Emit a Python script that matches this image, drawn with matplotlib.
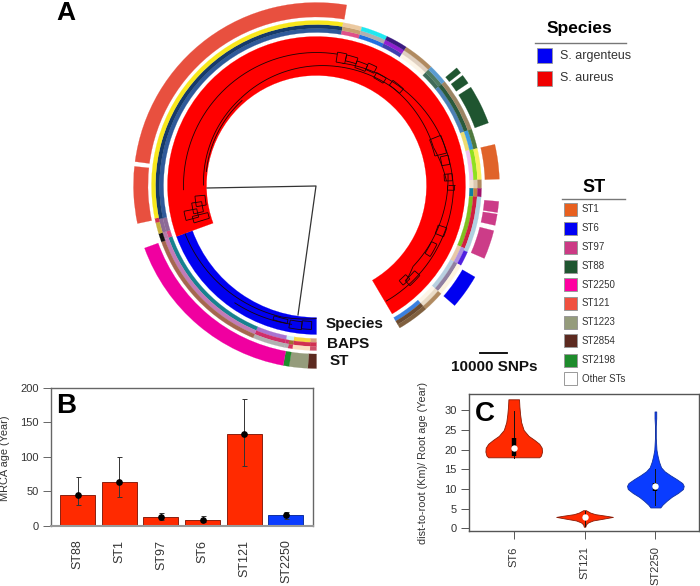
import numpy as np
import matplotlib
matplotlib.use("Agg")
import matplotlib.pyplot as plt
from matplotlib.patches import Wedge, Rectangle

plt.rcParams['font.family'] = ['Liberation Sans', 'DejaVu Sans']

W, H = 700, 586
CX, CY = 316.5, 185.5

# ---------- Panel A data (angles clockwise from 12 o'clock) ----------
species_edges = [180, 250, 510]
species_colors = ['#0000F0', '#FF0000']

baps_edges = [180, 182.3, 188.4, 190, 191.2, 202.6, 250.6, 253, 258, 369.3, 376, 385.3, 393, 404, 411, 430, 437, 448, 451, 454, 473, 479, 491, 498.5, 509.7]
inner_colors = ['#D8A37F', '#F5D742', '#CFF3F5', '#CFF3F5', '#A974D0', '#17828F', '#E0457F', '#8C6A96', '#2F5A9A',
                '#E0508A', '#2070E0', '#4040B0', '#FDF5E8', '#3F6B5A', '#4C80B4', '#EBDC70', '#EFC0F0', '#F2E5D0',
                '#1080A0', '#80C020', '#E8C8A8', '#B8D0E0', '#FDF5E8', '#3A80E0']
mid_colors = ['#D03050', '#D03050', '#A07030', '#D02F6A', '#D02F6A', '#C27BB8', '#B57BA8', '#8C6A96', '#153A6B',
              '#C8A070', '#B0B0B0', '#9020D0', '#E0D0C0', '#4F7A62', '#2A5A3C', '#3C9BE0', '#90E020', '#DCC8B0',
              '#C08040', '#D02040', '#B090E0', '#9080A0', '#EADCC8', '#6A4A30']
outer_edges = [180, 182.3, 188.4, 190, 191.2, 202.6, 250, 253, 257, 258.5, 369.3, 376, 385.3, 393, 404, 411, 430, 437, 448, 451, 454, 473.8, 479, 491, 498.5, 509.7]
outer_colors = ['#D0506A', '#FADFC0', '#D8305C', '#B0B0B0', '#B0B0B0', '#A5674F', '#111111', '#C8B040', '#D03050', '#F8E71C',
                '#EBC9A0', '#20E8F0', '#3A1A80', '#B08A60', '#5A9BD0', '#9C8463', '#4F7A3F', '#F8F060', '#B08A60',
                '#A0106A', '#B0D0E0', '#5020E0', '#FDF5E0', '#B08A60', '#80603F']

st_edges = [(180, 182.7), (182.7, 188.6), (188.6, 190.5), (190.5, 250), (258, 276), (277.5, 369.5),
            (410, 412), (413, 416), (417.5, 430), (437, 448), (455, 458.5), (459, 462.6), (464.3, 473.5), (480, 491)]
st_colors = ['#5C2A20', '#959C7C', '#1E8C2C', '#F000A0', '#E8503F', '#E8503F',
             '#1F5530', '#1F5530', '#1F5530', '#E0632A', '#CC3C88', '#CC3C88', '#CC3C88', '#0000F0']

# tree arcs: (angle start, radius start, angle end, radius end)
tree_arcs = [(268, 133, 369, 133), (270, 113, 319, 115.5), (319, 115.5, 372, 121), (277, 111, 319, 113),
             (372, 125, 392, 128), (372, 121, 398, 124), (392, 128, 425, 133), (398, 124, 432, 123),
             (432, 123, 448, 130), (425, 133, 452, 137), (452, 137, 509, 135), (445, 132, 490, 126),
             (490, 126, 497, 131), (250, 140, 195, 136), (195, 136, 180, 133), (215, 143, 190, 141)]
tree_boxes = [(369, 373, 125, 135), (373, 378, 128, 134), (378, 383, 124, 131), (383, 387, 126, 133),
              (388, 393, 122, 128), (396, 402, 124, 130), (428, 436, 122, 134), (437, 441, 127, 135),
              (445, 448, 128, 136), (450, 452, 131, 138), (468, 472, 128, 137), (476, 482, 128, 134),
              (491, 497, 130, 137), (495, 499, 126, 132), (255, 259, 122, 135), (257, 262, 116, 126),
              (260, 265, 112, 122), (253, 256, 112, 128), (182, 186, 136, 144), (186, 191, 137, 145), (192, 198, 137, 141)]
root_x = [207, 316, 298]
root_y = [188, 186, 315]

# ---------- Legends ----------
species_labels = ['S. argenteus', 'S. aureus']
species_legend_colors = ['#0000F5', '#F00000']
st_labels = ['ST1', 'ST6', 'ST97', 'ST88', 'ST2250', 'ST121', 'ST1223', 'ST2854', 'ST2198', 'Other STs']
st_legend_colors = ['#E8601F', '#0000F5', '#CC3A85', '#1F5530', '#FF00A0', '#F0503F', '#959C7C', '#5C2A20', '#1E8C2C', '#FFFFFF']

# ---------- Panel B ----------
b_labels = ['ST88', 'ST1', 'ST97', 'ST6', 'ST121', 'ST2250']
b_values = [45, 64, 12, 9, 133, 15]
b_low = [30, 42, 8, 6, 86, 10]
b_high = [71, 100, 19, 14, 184, 20]
b_colors = ['#FF2A00', '#FF2A00', '#FF2A00', '#FF2A00', '#FF2A00', '#0A3CFF']

# ---------- Panel C ----------
c_labels = ['ST6', 'ST121', 'ST2250']
c_colors = ['#FF2A00', '#FF2A00', '#0A3CFF']
st6_y = [18.05, 18.5, 19.5, 20.5, 21.5, 22.5, 23.5, 25, 27, 29, 31, 32.8]
st6_w = [0.36, 0.385, 0.40, 0.395, 0.36, 0.29, 0.21, 0.14, 0.105, 0.09, 0.08, 0.075]
st121_y = [0.4, 1, 1.5, 2, 2.5, 2.9, 3.2, 3.6, 4, 4.6]
st121_w = [0.01, 0.02, 0.05, 0.12, 0.28, 0.40, 0.30, 0.15, 0.08, 0.02]
st2250_y = [5.3, 6, 7, 8, 9, 10, 10.8, 11.5, 12.5, 13.5, 14.5, 15.5, 17, 18.5, 20, 23, 26, 28, 29.7]
st2250_w = [0.07, 0.10, 0.16, 0.23, 0.32, 0.39, 0.40, 0.38, 0.30, 0.21, 0.13, 0.08, 0.05, 0.03, 0.015, 0.006, 0.006, 0.012, 0.012]
c_shapes = [(st6_y, st6_w), (st121_y, st121_w), (st2250_y, st2250_w)]
c_medians = [20.3, 2.8, 10.8]
c_box_low = [18.4, 2.3, 9.5]
c_box_high = [23, 3.2, 11.5]
c_whisk_low = [18, 0.6, 6]
c_whisk_high = [29.7, 4.3, 15]

fig = plt.figure(figsize=(W / 100, H / 100), dpi=100, facecolor='white')


def px_axes(left, top, right, bottom, **kw):
    return fig.add_axes([left / W, 1 - bottom / H, (right - left) / W, (bottom - top) / H], **kw)


# ---------- Panel A ----------
ax = px_axes(0, 0, W, H)
ax.set_xlim(0, W)
ax.set_ylim(H, 0)
ax.axis('off')


def band(t1, t2, r1, r2, color, z=2):
    ax.add_patch(Wedge((CX, CY), r2, t1 - 90, t2 - 90, width=r2 - r1, facecolor=color, edgecolor=color, lw=0.15, zorder=z))


def polar_xy(t, r):
    a = np.radians(t)
    return CX + r * np.sin(a), CY - r * np.cos(a)


def branch(t1, r1, t2, r2):
    ts = np.linspace(t1, t2, 40)
    rs = np.linspace(r1, r2, 40)
    x, y = polar_xy(ts, rs)
    ax.plot(x, y, color='#1a0505', lw=0.6, zorder=4, solid_capstyle='butt')


band(species_edges[0], species_edges[1], 132, 149, species_colors[0])
band(species_edges[1], species_edges[2] - 0.5, 110, 149, species_colors[1])

for edges, colors, r1, r2 in [(baps_edges, inner_colors, 153, 157), (baps_edges, mid_colors, 157, 161), (outer_edges, outer_colors, 161, 165)]:
    for t1, t2, c in zip(edges[:-1], edges[1:], colors):
        band(t1, t2, r1, r2, c)

for (t1, t2), c in zip(st_edges, st_colors):
    band(t1, t2, 168.5, 183, c)

for a in tree_arcs:
    branch(*a)
for t1, t2, r1, r2 in tree_boxes:
    branch(t1, r1, t2, r1)
    branch(t1, r2, t2, r2)
    branch(t1, r1, t1, r2)
    branch(t2, r1, t2, r2)
ax.plot(root_x, root_y, color='#333333', lw=0.9, zorder=4)

ax.text(66, 12.5, 'A', fontsize=19, fontweight='bold', ha='center', va='center', color='black')
ax.text(326, 324, 'Species', fontsize=11, fontweight='bold', va='center', color='#111111')
ax.text(327, 344, 'BAPS', fontsize=11, fontweight='bold', va='center', color='#111111')
ax.text(330, 361, 'ST', fontsize=11, fontweight='bold', va='center', color='#111111')

ax.text(579, 28, 'Species', fontsize=12.5, fontweight='bold', ha='center', va='center', color='black')
ax.plot([535, 626], [43, 43], color='#777777', lw=1.0)
for yc, lab, col in zip([55.5, 78], species_labels, species_legend_colors):
    ax.add_patch(Rectangle((537, yc - 7.5), 15, 15, facecolor=col, edgecolor='#999999', lw=0.6))
    ax.text(560, yc, lab, fontsize=9, va='center', color='#333333')

ax.text(594, 188, 'ST', fontsize=13, fontweight='bold', ha='center', va='center', color='black')
ax.plot([562, 625], [198.5, 198.5], color='#777777', lw=1.0)
st_legend_y = [209, 228, 247, 266, 284.5, 303.5, 322, 340.5, 360, 378.5]
for yc, lab, col in zip(st_legend_y, st_labels, st_legend_colors):
    ax.add_patch(Rectangle((563.5, yc - 6.5), 13, 13, facecolor=col, edgecolor='#999999', lw=0.7))
    ax.text(582, yc, lab, fontsize=7, va='center', color='#333333')

ax.plot([480, 507], [353, 353], color='black', lw=1.3)
ax.text(494, 367, '10000 SNPs', fontsize=11, fontweight='bold', ha='center', va='center', color='#111111')

# ---------- Panel B ----------
axb = px_axes(50.7, 388, 313, 525.7)
xb = np.arange(len(b_labels))
axb.bar(xb, b_values, width=0.84, color=b_colors, edgecolor=['#8A2010'] * 5 + ['#1030A0'], linewidth=0.7)
axb.errorbar(xb, b_values, yerr=[np.subtract(b_values, b_low), np.subtract(b_high, b_values)], fmt='o', color='black',
             ms=3.8, ecolor='#333333', elinewidth=0.7, capsize=1.8, capthick=0.7)
axb.set_xlim(-0.648, 5.65)
axb.set_ylim(0, 200)
axb.set_yticks([0, 50, 100, 150, 200])
axb.set_xticks(xb)
axb.set_xticklabels(b_labels, rotation=90, fontsize=9, color='#333333')
axb.tick_params(axis='x', length=0, pad=10)
axb.tick_params(axis='y', labelsize=8, labelcolor='#333333', length=5.5, width=0.7, color='#666666', pad=3)
for s in axb.spines.values():
    s.set_color('#666666')
    s.set_linewidth(1.0)
axb.spines['bottom'].set_color('#999999')
axb.spines['bottom'].set_linewidth(1.5)
ax.text(5, 458, 'MRCA age (Year)', rotation=90, fontsize=7.9, ha='center', va='center', color='#333333')
axb.text(0.02, 0.87, 'B', transform=axb.transAxes, fontsize=20, fontweight='bold', va='center', color='black')

# ---------- Panel C ----------
axc = px_axes(469.3, 394.3, 699.3, 531.3)
for i, ((vy, vw), col) in enumerate(zip(c_shapes, c_colors)):
    vy = np.asarray(vy)
    vw = np.asarray(vw)
    edge = '#8A1A05' if col == '#FF2A00' else '#1030A0'
    axc.fill_betweenx(vy, i - vw, i + vw, facecolor=col, edgecolor=edge, lw=0.6, zorder=2)
    axc.plot([i, i], [c_whisk_low[i], c_whisk_high[i]], color='#111111', lw=0.7, zorder=3)
    axc.plot([i, i], [c_box_low[i], c_box_high[i]], color='black', lw=3.2, zorder=4, solid_capstyle='butt')
    axc.plot([i], [c_medians[i]], 'o', color='white', ms=4.6, mew=0, zorder=5)
axc.set_xlim(-0.627, 2.62)
axc.set_ylim(-0.76, 34.07)
axc.set_yticks([0, 5, 10, 15, 20, 25, 30])
axc.set_xticks([0, 1, 2])
axc.set_xticklabels(c_labels, rotation=90, fontsize=8, color='#333333')
axc.tick_params(axis='x', length=6, width=0.7, color='#555555', pad=5)
axc.tick_params(axis='y', labelsize=8, labelcolor='#333333', length=6, width=0.7, color='#555555', pad=3)
for s in axc.spines.values():
    s.set_color('#555555')
    s.set_linewidth(1.0)
ax.text(423, 463, 'dist-to-root (Km)/ Root age (Year)', rotation=90, fontsize=7.8, ha='center', va='center', color='#333333')
axc.text(0.025, 0.855, 'C', transform=axc.transAxes, fontsize=20, fontweight='bold', va='center', color='black')

fig.savefig('out.png', dpi=100)
